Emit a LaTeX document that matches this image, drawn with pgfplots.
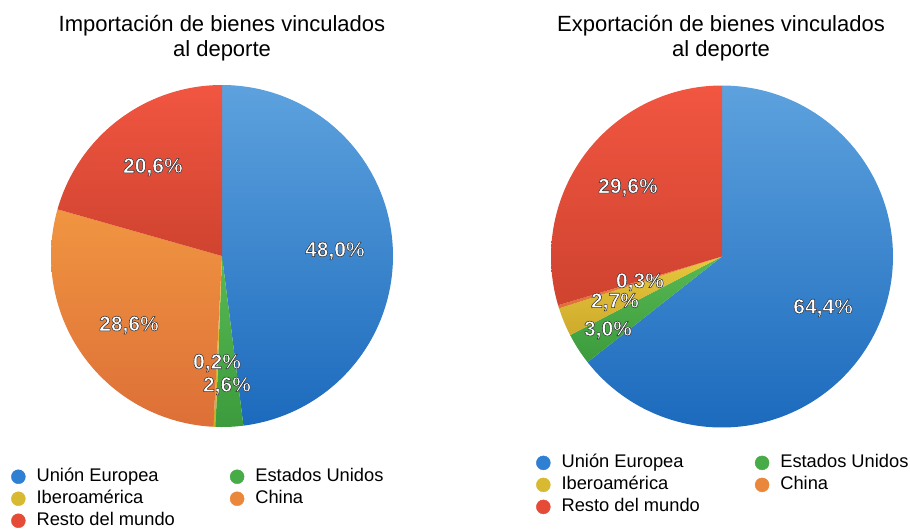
\documentclass[border=0pt]{standalone}
\usepackage{pgfplots}
\usepackage{pgfplotstable}
\pgfplotsset{compat=1.18}
\usepackage{fontspec}
\setmainfont{Liberation Sans}

\definecolor{cblueT}{HTML}{5DA2DE}
\definecolor{cblueB}{HTML}{1C6ABD}
\definecolor{cgreenT}{HTML}{58B853}
\definecolor{cgreenB}{HTML}{3C9C3D}
\definecolor{cyellowT}{HTML}{E6C73C}
\definecolor{cyellowB}{HTML}{CFAA2C}
\definecolor{corangeT}{HTML}{F09541}
\definecolor{corangeB}{HTML}{DD6F37}
\definecolor{credT}{HTML}{F15641}
\definecolor{credB}{HTML}{CF432F}
\definecolor{legUE}{HTML}{2F7FD2}
\definecolor{legEU}{HTML}{47AB47}
\definecolor{legIB}{HTML}{D8B932}
\definecolor{legCH}{HTML}{EB873A}
\definecolor{legRE}{HTML}{E54B37}

\pgfplotstableread{
region value col
UE     48.0  cblue
EEUU    2.6  cgreen
Ibero   0.2  cyellow
China  28.6  corange
Resto  20.6  cred
}\importdata

\pgfplotstableread{
region value col
UE     64.4  cblue
EEUU    3.0  cgreen
Ibero   2.7  cyellow
China   0.3  corange
Resto  29.6  cred
}\exportdata

\newcommand\drawpie[1]{%
  \def\piecum{0}%
  \pgfplotsforeachungrouped \i in {0,...,4}{%
    \pgfplotstablegetelem{\i}{value}\of{#1}\let\pieval\pgfplotsretval
    \pgfplotstablegetelem{\i}{col}\of{#1}\let\piecol\pgfplotsretval
    \pgfmathsetmacro\piea{90-3.6*\piecum}%
    \pgfmathsetmacro\piecum{\piecum+\pieval}%
    \pgfmathsetmacro\pieb{90-3.6*\piecum}%
    \edef\pietmp{\noexpand\addplot[draw=none, top color=\piecol T, bottom color=\piecol B,
      domain=\pieb:\piea, samples=120, forget plot]
      ({cos(x)},{sin(x)}) -- (axis cs:0,0) -- cycle;}%
    \pietmp
  }%
}

% white label with a thin dark outline (fill + stroke text rendering)
\newcommand\plabel[2]{%
  \node[text=white, font=\bfseries\fontsize{21bp}{21bp}\selectfont] at (axis cs:#1)
    {\special{pdf:literal direct 0.2 0.2 0.22 RG 0.55 w 1 j 2 Tr}#2\special{pdf:literal direct 0 Tr}};
}

\pgfplotsset{
  pie/.style={hide axis, x=171bp, y=171bp, xmin=-1, xmax=1, ymin=-1, ymax=1,
    clip=false, anchor=center,
    legend columns=2,
    legend cell align=left,
    legend image code/.code={\fill[##1] (7bp,0bp) circle (7bp);},
    legend style={draw=none, fill=none, inner sep=0pt,
      font=\fontsize{18.3bp}{20bp}\selectfont,
      row sep=5bp,
      nodes={inner sep=0pt, text height=13bp, text depth=4bp},
      /tikz/every odd column/.style={column sep=11bp},
      /tikz/every even column/.style={column sep=55bp}},
  }
}

\begin{document}
\begin{tikzpicture}
\path (0,0) rectangle (910bp,-525bp);

\node[anchor=base, font=\fontsize{22bp}{25bp}\selectfont] at (222bp,-31bp) {Importación de bienes vinculados};
\node[anchor=base, font=\fontsize{22bp}{25bp}\selectfont] at (222bp,-56bp) {al deporte};
\node[anchor=base, font=\fontsize{22bp}{25bp}\selectfont] at (721bp,-31bp) {Exportación de bienes vinculados};
\node[anchor=base, font=\fontsize{22bp}{25bp}\selectfont] at (721bp,-56bp) {al deporte};

\begin{axis}[pie, at={(222bp,-256bp)},
  legend style={at={(axis description cs:-0.117,-0.120)}, anchor=north west}]
  \drawpie{\importdata}
  \addlegendimage{color=legUE}\addlegendentry{Unión Europea}
  \addlegendimage{color=legEU}\addlegendentry{Estados Unidos}
  \addlegendimage{color=legIB}\addlegendentry{Iberoamérica}
  \addlegendimage{color=legCH}\addlegendentry{China}
  \addlegendimage{color=legRE}\addlegendentry{Resto del mundo}
  \plabel{0.660,0.030}{48,0\%}
  \plabel{-0.404,0.520}{20,6\%}
  \plabel{-0.544,-0.404}{28,6\%}
  \plabel{-0.029,-0.626}{0,2\%}
  \plabel{0.029,-0.760}{2,6\%}
\end{axis}

\begin{axis}[pie, at={(722bp,-256.5bp)},
  legend style={at={(axis description cs:-0.044,-0.078)}, anchor=north west}]
  \drawpie{\exportdata}
  \addlegendimage{color=legUE}\addlegendentry{Unión Europea}
  \addlegendimage{color=legEU}\addlegendentry{Estados Unidos}
  \addlegendimage{color=legIB}\addlegendentry{Iberoamérica}
  \addlegendimage{color=legCH}\addlegendentry{China}
  \addlegendimage{color=legRE}\addlegendentry{Resto del mundo}
  \plabel{-0.550,0.404}{29,6\%}
  \plabel{-0.480,-0.149}{0,3\%}
  \plabel{-0.626,-0.266}{2,7\%}
  \plabel{-0.667,-0.430}{3,0\%}
  \plabel{0.591,-0.301}{64,4\%}
\end{axis}
\end{tikzpicture}
\end{document}
